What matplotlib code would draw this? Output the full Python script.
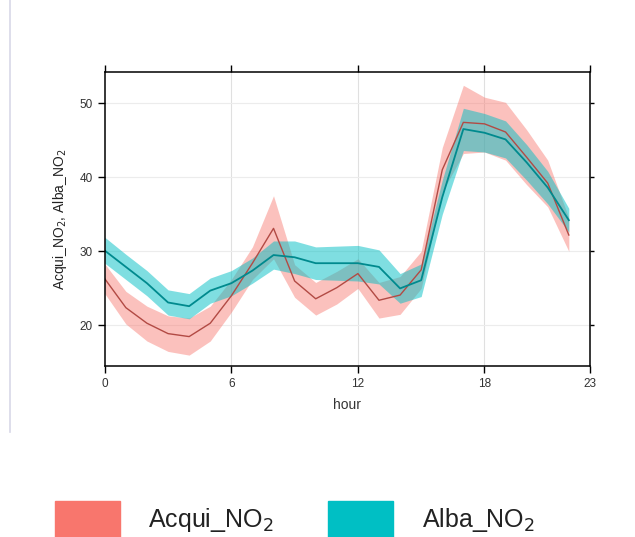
import numpy as np
import matplotlib
matplotlib.use('Agg')
from matplotlib import pyplot as plt
from matplotlib.patches import Rectangle
from matplotlib.lines import Line2D

plt.rcParams['font.family'] = ['Liberation Sans', 'DejaVu Sans']

hours = list(range(23))

acqui_mean = [26.3, 22.4, 20.3, 18.9, 18.5, 20.3, 24.0, 28.4, 33.1, 26.0, 23.6, 25.1, 27.0,
              23.4, 24.1, 27.5, 41.0, 47.4, 47.2, 46.1, 42.7, 39.2, 32.2]
acqui_low = [24.3, 20.2, 17.9, 16.5, 16.0, 17.9, 21.8, 26.2, 29.0, 23.8, 21.4, 22.9, 25.0,
             21.0, 21.5, 25.0, 38.0, 43.2, 43.4, 42.3, 39.0, 36.0, 30.0]
acqui_high = [28.3, 24.6, 22.6, 21.3, 21.0, 22.6, 26.2, 30.6, 37.5, 28.2, 25.8, 27.3, 29.0,
              25.8, 26.6, 30.0, 44.0, 52.4, 50.8, 50.1, 46.4, 42.3, 34.5]

alba_mean = [30.1, 27.9, 25.7, 23.1, 22.6, 24.7, 25.7, 27.4, 29.5, 29.2, 28.4, 28.4, 28.4,
             27.9, 25.0, 26.1, 37.3, 46.5, 46.0, 45.1, 42.0, 38.6, 34.2]
alba_low = [28.4, 26.2, 24.0, 21.4, 20.9, 23.0, 24.0, 25.7, 27.6, 27.0, 26.2, 26.1, 26.0,
            25.6, 23.0, 23.9, 35.0, 43.6, 43.4, 42.6, 39.6, 36.4, 32.6]
alba_high = [31.9, 29.6, 27.4, 24.8, 24.3, 26.4, 27.4, 29.1, 31.4, 31.4, 30.6, 30.7, 30.8,
             30.2, 27.0, 28.3, 39.6, 49.3, 48.6, 47.6, 44.4, 40.8, 35.8]

red = '#F8766D'
teal = '#00BFC4'

fig = plt.figure(figsize=(6.35, 5.37), dpi=100)
ax = fig.add_axes([0.165, 0.318, 0.764, 0.548])

ax.fill_between(hours, acqui_low, acqui_high, color=red, alpha=0.45, lw=0)
ax.fill_between(hours, alba_low, alba_high, color=teal, alpha=0.5, lw=0)
ax.plot(hours, acqui_mean, color='#b24a44', lw=1)
ax.plot(hours, alba_mean, color='#008a8e', lw=1.3)

ax.set_xlim(0, 23)
ax.set_ylim(14.5, 54.2)
ax.set_xticks([0, 6, 12, 18, 23])
ax.set_yticks([20, 30, 40, 50])
for v in [6, 12, 18]:
    ax.axvline(v, color='#e0e0e0', lw=0.8, zorder=0)
for v in [20, 30, 40, 50]:
    ax.axhline(v, color='#ececec', lw=0.8, zorder=0)

ax.tick_params(direction='out', length=5, width=1, labelsize=8.5, colors='black',
               labelcolor='#333333', top=True, labeltop=False)
ax.tick_params(axis='y', which='both', right=True, labelright=False)
for t in ax.yaxis.get_ticklines()[1::2]:
    t.set_markersize(3)
    t.set_color('#999999')
for s in ax.spines.values():
    s.set_linewidth(1.1)

ax.set_xlabel('hour', fontsize=10, color='#333333', labelpad=6)
ax.set_ylabel('Acqui_NO$_2$, Alba_NO$_2$', fontsize=10, color='#222222', labelpad=8)

# thin vertical line at the left of the screenshot
fig.add_artist(Line2D([0.015, 0.015], [0.195, 1.0], color='#d8d8e8', lw=1.2))

# legend
fig.add_artist(Rectangle((0.087, 0.0), 0.102, 0.067, color=red, transform=fig.transFigure))
fig.add_artist(Rectangle((0.517, 0.0), 0.102, 0.067, color=teal, transform=fig.transFigure))
fig.text(0.233, 0.032, 'Acqui_NO$_2$', fontsize=18, va='center', ha='left', color='#222222')
fig.text(0.665, 0.032, 'Alba_NO$_2$', fontsize=18, va='center', ha='left', color='#222222')

plt.savefig('out.png', dpi=100)
